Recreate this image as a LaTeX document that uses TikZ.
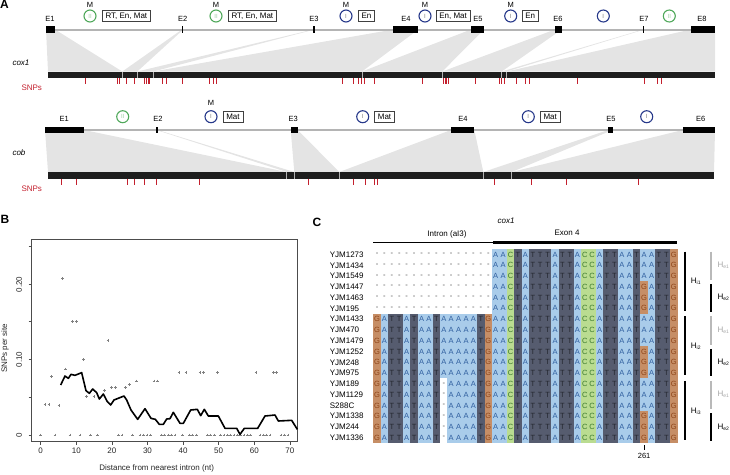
\documentclass[tikz,border=0pt]{standalone}
\usepackage{fontspec}
\setmainfont{Liberation Sans}
\newcommand\myfs[1]{\fontsize{#1}{#1}\selectfont}
\definecolor{geneln}{HTML}{B4B4B4}
\definecolor{wedgec}{HTML}{E4E4E4}
\definecolor{mrnac}{HTML}{1E1E1E}
\definecolor{snpc}{HTML}{C3202E}
\definecolor{grIIc}{HTML}{4FA85A}
\definecolor{grIc}{HTML}{26388A}
\definecolor{bgA}{HTML}{A9CCEA}
\definecolor{txA}{HTML}{2F5E9E}
\definecolor{bgT}{HTML}{565C6F}
\definecolor{txT}{HTML}{23262F}
\definecolor{bgC}{HTML}{BADC91}
\definecolor{txC}{HTML}{3C7A2E}
\definecolor{bgG}{HTML}{C68E66}
\definecolor{txG}{HTML}{8E4418}
\definecolor{bgD}{HTML}{FFFFFF}
\definecolor{txD}{HTML}{444444}
\def\LA{A}\def\LT{T}\def\LC{C}\def\LG{G}\def\LD{-}
\newcommand\seqrow[2]{%
  \pgfmathsetmacro\ry{254.5+10.78*(#1-1)}%
  \edef\seqlist{#2}%
  \foreach \ch [count=\j from 0] in \seqlist {%
    \pgfmathsetmacro\cx{377.0+7.42*\j}%
    \edef\bgc{bg\ch}\edef\txc{tx\ch}%
    \fill[fill=\bgc] (\cx-3.76,\ry-5.42) rectangle (\cx+3.76,\ry+5.42);
    \node[text=\txc, font=\myfs{7.5}, inner sep=0] (s#1-\j) at (\cx,\ry) {\csname L\ch\endcsname};
  }}
\def\INab{D,D,D,D,D,D,D,D,D,D,D,D,D,D,D,D}
\def\INfu{G,A,T,T,A,T,A,A,T,A,A,A,A,A,T,G}
\def\INgp{G,A,T,T,A,T,A,A,T,D,A,A,A,A,T,G}
\def\EXa{A,A,C,T,A,T,T,T,A,T,T,A,C,C,A,T,T,A,A,T,A,A,T,T,G}
\def\EXg{A,A,C,T,A,T,T,T,A,T,T,A,C,C,A,T,T,A,A,T,G,A,T,T,G}
\begin{document}
\begin{tikzpicture}[x=1pt,y=-1pt,
  genel/.style={draw=geneln, line width=2},
  wedgef/.style={fill=wedgec},
  bar/.style={fill=mrnac},
  divl/.style={draw=gray!60, line width=0.6},
  snpt/.style={draw=snpc, line width=0.9},
  intII/.style={circle, draw=grIIc, line width=1.1, minimum size=12, inner sep=0, text=grIIc!55, font=\myfs{6}},
  intI/.style={circle, draw=grIc, line width=1.1, minimum size=12, inner sep=0, text=gray, font=\myfs{6}},
  featbox/.style={draw=black!75, line width=0.55, inner xsep=3.3, inner ysep=0, minimum height=11, font=\myfs{8}, anchor=west},
  elab/.style={font=\myfs{7.5}},
  panel/.style={font=\myfs{12}\bfseries},
  ptst/.style={draw=gray, line width=0.45},
  axt/.style={font=\myfs{8}, text=black!85}
]
\useasboundingbox (0,0) rectangle (730,474);
% ================= Panel A =================
\node[panel] (lA) at (4.5,4.5) {A};
% ---- cox1
\node[font=\myfs{8}\itshape, anchor=west] (gcox) at (9,63) {cox1};
\node[font=\myfs{8}, text=snpc, anchor=east] (snp1) at (45.5,88) {SNPs};
\foreach \a/\b/\c/\d in {46/55/48/122.3, 182/183.4/122.3/137.3, 313.3/314.7/137.3/153.3, 393.3/418.3/153.3/362, 471/484/362/442.3, 555/561.7/442.3/501.7, 643/644.4/501.7/506.7, 690.7/715/506.7/715}
  \fill[wedgef] (\a,29.5) -- (\b,29.5) -- (\d,71.5) -- (\c,71.5) -- cycle;
\draw[genel] (46,29.5) -- (715,29.5);
\foreach \a/\b in {46/55, 182/183.4, 313.3/314.7, 393.3/418.3, 471/484, 555/561.7, 643/644.4, 690.7/715}
  \fill (\a,26) rectangle (\b,33);
\foreach \x/\t in {50/E1,182.7/E2,314/E3,406/E4,478/E5,558/E6,644/E7,702/E8}
  \node[elab] (c\t) at (\x,19) {\t};
\fill[bar] (48,71.5) rectangle (715,78);
\foreach \x in {122.3,137.3,153.3,362,442.3,501.7,506.7}
  \draw[divl] (\x,71.5) -- (\x,78);
\foreach \x in {85.7,117,119.3,126,134.3,144.5,146.3,148,149.7,162.5,166.7,182.3,209.3,213,216.7,342,353.3,358.3,361,364,374.5,422,443.3,445,446.7,448.5,475,499.3,501.7,504.5,516.5,525.7,529.3,577,644,657.5,661.7}
  \draw[snpt] (\x,78) -- (\x,84);
% intron markers cox1
\node[intII] (ca1) at (90,16) {II};
\node[elab] (ma1) at (90,5) {M};
\node[featbox] (ba1) at (102,16) {RT, En, Mat};
\node[intII] (ca2) at (216,16) {II};
\node[elab] (ma2) at (216,5) {M};
\node[featbox] (ba2) at (228,16) {RT, En, Mat};
\node[intI] (ca3) at (346,16) {I};
\node[elab] (ma3) at (346,5) {M};
\node[featbox] (ba3) at (358,16) {En};
\node[intI] (ca4) at (425,16) {I};
\node[elab] (ma4) at (425,4.5) {M};
\node[featbox] (ba4) at (435.7,16) {En, Mat};
\node[intI] (ca5) at (510.7,16) {I};
\node[elab] (ma5) at (510.7,5) {M};
\node[featbox] (ba5) at (521.7,16) {En};
\node[intI] (ca6) at (603.3,16) {I};
\node[intII] (ca7) at (669.3,16) {II};
% ---- cob
\node[font=\myfs{8}\itshape, anchor=west] (gcob) at (9,153) {cob};
\node[font=\myfs{8}, text=snpc, anchor=east] (snp2) at (45.5,189) {SNPs};
\foreach \a/\b/\c/\d in {45/84/48/286.7, 156.3/157.7/286.7/294.3, 290.7/297.7/294.3/339.3, 451/474.3/339.3/483.3, 608.3/612.7/483.3/511.7, 682.7/715/511.7/714}
  \fill[wedgef] (\a,130) -- (\b,130) -- (\d,172) -- (\c,172) -- cycle;
\draw[genel] (45,130) -- (715,130);
\foreach \a/\b in {45/84, 156.3/157.7, 290.7/297.7, 451/474.3, 608.3/612.7, 682.7/715}
  \fill (\a,126.7) rectangle (\b,133.3);
\foreach \x/\t in {64.3/E1,158/E2,293.3/E3,463/E4,611/E5,700.7/E6}
  \node[elab] (b\t) at (\x,119.3) {\t};
\fill[bar] (48,172) rectangle (714,178.5);
\foreach \x in {286.7,294.3,339.3,483.3,511.7}
  \draw[divl] (\x,172) -- (\x,178.5);
\foreach \x in {61,76,127,134,144,156,199.5,308.5,353.5,365,374.5,377.5,494,531,566,638}
  \draw[snpt] (\x,178.5) -- (\x,184.5);
\node[intII] (cb1) at (122.7,116.7) {II};
\node[intI] (cb2) at (211,116.7) {I};
\node[elab] (mb2) at (211,103.3) {M};
\node[featbox] (bb2) at (222.7,116.7) {Mat};
\node[intI] (cb3) at (362.7,116.7) {I};
\node[featbox] (bb3) at (374.3,116.7) {Mat};
\node[intI] (cb4) at (528.3,116.7) {I};
\node[featbox] (bb4) at (540,116.7) {Mat};
\node[intI] (cb5) at (646.7,116.7) {I};
% ================= Panel B =================
\node[panel] (lB) at (5,219) {B};
\begin{scope}[shift={(0,220)}, x=0.333333pt, y=-0.333333pt]
  \draw[black!70, line width=0.7] (95,57) rectangle (892,665);
  \foreach \py in {645,532,418,305,193,80}
    \draw[black!70, line width=0.6] (86,\py) -- (95,\py);
  \foreach \py/\lab in {645/0,418/0.10,193/0.20}
    \node[axt, rotate=90] (yl\py) at (57,\py) {\lab};
  \foreach \k/\lab in {0/0,1/10,2/20,3/30,4/40,5/50,6/60,7/70} {
    \draw[black!70, line width=0.6] ({122+106.8*\k},665) -- ({122+106.8*\k},674);
    \node[axt] (xl\k) at ({122+106.8*\k},691) {\lab};
  }
  \node[axt] (xlab) at (470,745) {Distance from nearest intron (nt)};
  \node[axt, rotate=90] (ylab) at (15,385) {SNPs per site};
  \foreach \px in {122,165,210,240,272,293,355,366,398,420,430,441,452,484,494,505,515,525,547,568,578,589,622,632,643,662,672,682,692,702,712,722,732,742,752,780,790,800,810,843,853,864}
    \draw[ptst] (\px,645) +(-4,0) -- +(4,0) +(0,-4) -- +(0,4);
  \foreach \px/\py in {135/553,147/553,155/470,177/557,187/175,197/447,218/305,230/305,250/418,260/530,282/530,314/512,324/362,335/503,346/503,377/503,388/493,409/483,462/483,473/483,537/457,558/457,600/457,610/457,652/457,768/457,820/457,830/457}
    \draw[ptst] (\px,\py) +(-4,0) -- +(4,0) +(0,-4) -- +(0,4);
  \draw[line width=1.6, line join=round] (182,495) -- (195,468) -- (205,475) -- (213,463) -- (225,466) -- (245,458) -- (258,512) -- (268,520) -- (278,507) -- (290,518) -- (298,537) -- (310,522) -- (322,545) -- (332,555) -- (342,540) -- (372,528) -- (380,540) -- (393,570) -- (413,598) -- (435,566) -- (453,595) -- (466,598) -- (478,613) -- (490,613) -- (500,597) -- (510,596) -- (520,577) -- (540,610) -- (550,610) -- (572,570) -- (592,568) -- (602,587) -- (613,568) -- (625,588) -- (655,588) -- (675,625) -- (710,625) -- (720,643) -- (733,625) -- (773,625) -- (795,588) -- (825,585) -- (835,603) -- (875,601) -- (892,628);
\end{scope}
% ================= Panel C =================
\node[panel] (lC) at (317,222) {C};
\node[font=\myfs{8}\itshape] (hcox) at (506,221) {cox1};
\node[font=\myfs{8}] (hint) at (447,234) {Intron (aI3)};
\node[font=\myfs{8}] (hex) at (567,233) {Exon 4};
\coordinate (li0) at (373.3,242.3);
\coordinate (li1) at (493,242.3);
\coordinate (le1) at (677.3,242.3);
\draw[line width=1.3] (li0) -- (li1);
\draw[line width=2.6] (li1) -- (le1);
\foreach \n [count=\i] in {YJM1273,YJM1434,YJM1549,YJM1447,YJM1463,YJM195,YJM1433,YJM470,YJM1479,YJM1252,YJM248,YJM975,YJM189,YJM1129,S288C,YJM1338,YJM244,YJM1336}
  \node[font=\myfs{8}, anchor=west] (n\i) at (326.3,{254.5+10.78*(\i-1)}) {\n};
\seqrow{1}{\INab,\EXa}
\seqrow{2}{\INab,\EXa}
\seqrow{3}{\INab,\EXa}
\seqrow{4}{\INab,\EXg}
\seqrow{5}{\INab,\EXg}
\seqrow{6}{\INab,\EXg}
\seqrow{7}{\INfu,\EXa}
\seqrow{8}{\INfu,\EXa}
\seqrow{9}{\INfu,\EXa}
\seqrow{10}{\INfu,\EXg}
\seqrow{11}{\INfu,\EXg}
\seqrow{12}{\INfu,\EXg}
\seqrow{13}{\INgp,\EXa}
\seqrow{14}{\INgp,\EXa}
\seqrow{15}{\INgp,\EXa}
\seqrow{16}{\INgp,\EXg}
\seqrow{17}{\INgp,\EXg}
\seqrow{18}{\INgp,\EXg}
\coordinate (t0) at (644.1,445);
\coordinate (t1) at (644.1,449.5);
\draw[line width=0.8] (t0) -- (t1);
\node[font=\myfs{7.5}] (p261) at (644.1,456) {261};
\foreach \g/\lab in {0/1,1/2,2/3} {
  \pgfmathsetmacro\gt{249.11+64.68*\g}
  \draw[line width=2] (685.3,\gt+2.5) -- (685.3,\gt+61.5);
  \node[font=\myfs{8}] (hi\lab) at (696,\gt+32.3) {H\textsubscript{\myfs{5}i\lab}};
  \draw[gray!55, line width=1.3] (711,\gt+2.5) -- (711,\gt+31);
  \draw[line width=1.3] (711,\gt+35) -- (711,\gt+62.5);
  \node[font=\myfs{8}, text=gray!70] (he1\lab) at (723.5,\gt+16.2) {H\textsubscript{\myfs{5}e1}};
  \node[font=\myfs{8}] (he2\lab) at (723.5,\gt+48.5) {H\textsubscript{\myfs{5}e2}};
}
\end{tikzpicture}
\end{document}
